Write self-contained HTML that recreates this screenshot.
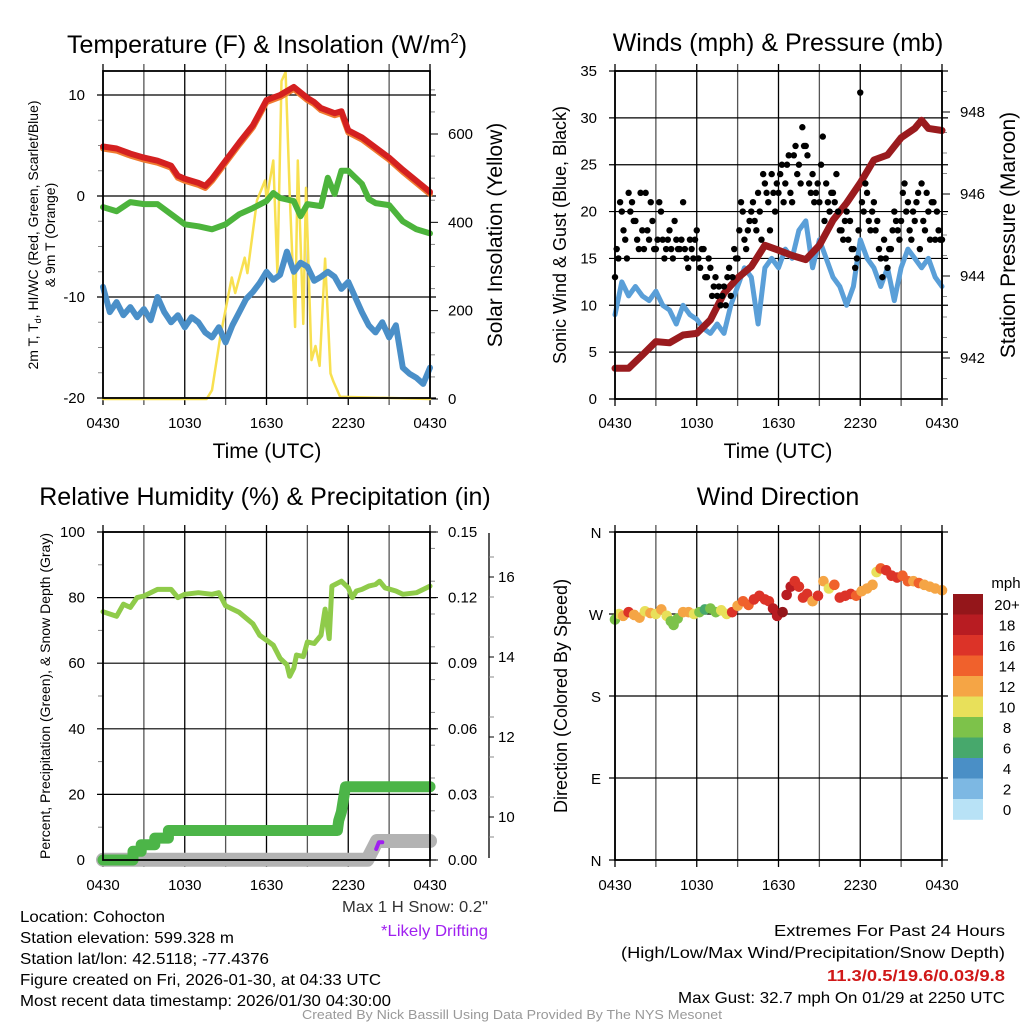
<!DOCTYPE html>
<html><head><meta charset="utf-8">
<style>
html,body{margin:0;padding:0;background:#fff;}
svg{display:block;font-family:"Liberation Sans",sans-serif;}
</style></head>
<body>
<svg id="c" width="1024" height="1024" viewBox="0 0 1024 1024" xmlns="http://www.w3.org/2000/svg">
<rect width="1024" height="1024" fill="#fff"/>
<g id="tl"></g>
<g id="tr"></g>
<g id="bl"></g>
<g id="br"></g>

<text x="267" y="53" font-size="25" text-anchor="middle">Temperature (F) &amp; Insolation (W/m<tspan dy="-10" font-size="15">2</tspan><tspan dy="10">)</tspan></text>
<text x="778" y="51" font-size="25" text-anchor="middle">Winds (mph) &amp; Pressure (mb)</text>
<text x="265" y="505" font-size="25" text-anchor="middle">Relative Humidity (%) &amp; Precipitation (in)</text>
<text x="778" y="505" font-size="25" text-anchor="middle">Wind Direction</text>

<text x="267" y="458" font-size="21" text-anchor="middle">Time (UTC)</text>
<text x="778" y="458" font-size="21" text-anchor="middle">Time (UTC)</text>

<text transform="translate(38,235) rotate(-90)" font-size="14" text-anchor="middle">2m T, T<tspan font-size="9" dy="3">d</tspan><tspan dy="-3">, HI/WC (Red, Green, Scarlet/Blue)</tspan></text>
<text transform="translate(55,235) rotate(-90)" font-size="14" text-anchor="middle">&amp; 9m T (Orange)</text>
<text transform="translate(502,235) rotate(-90)" font-size="21" text-anchor="middle">Solar Insolation (Yellow)</text>
<text transform="translate(566,235) rotate(-90)" font-size="18" text-anchor="middle">Sonic Wind &amp; Gust (Blue, Black)</text>
<text transform="translate(1015,235) rotate(-90)" font-size="21" text-anchor="middle">Station Pressure (Maroon)</text>
<text transform="translate(50,696) rotate(-90)" font-size="14" text-anchor="middle">Percent, Precipitation (Green), &amp; Snow Depth (Gray)</text>
<text transform="translate(567,696) rotate(-90)" font-size="18" text-anchor="middle">Direction (Colored By Speed)</text>

<g font-size="16" lengthAdjust="spacingAndGlyphs">
<text x="342" y="912" textLength="146" lengthAdjust="spacingAndGlyphs" fill="#333">Max 1 H Snow: 0.2"</text>
<text x="381" y="936" textLength="107" lengthAdjust="spacingAndGlyphs" fill="#a020f0">*Likely Drifting</text>
<text x="20" y="922" textLength="145" lengthAdjust="spacingAndGlyphs">Location: Cohocton</text>
<text x="20" y="943" textLength="214" lengthAdjust="spacingAndGlyphs">Station elevation: 599.328 m</text>
<text x="20" y="964" textLength="249" lengthAdjust="spacingAndGlyphs">Station lat/lon: 42.5118; -77.4376</text>
<text x="20" y="985" textLength="361" lengthAdjust="spacingAndGlyphs">Figure created on Fri, 2026-01-30, at 04:33 UTC</text>
<text x="20" y="1006" textLength="371" lengthAdjust="spacingAndGlyphs">Most recent data timestamp: 2026/01/30 04:30:00</text>
<text x="774" y="936" textLength="231" lengthAdjust="spacingAndGlyphs">Extremes For Past 24 Hours</text>
<text x="621" y="958" textLength="384" lengthAdjust="spacingAndGlyphs">(High/Low/Max Wind/Precipitation/Snow Depth)</text>
<text x="827" y="981" textLength="178" lengthAdjust="spacingAndGlyphs" fill="#d01818" font-weight="bold">11.3/0.5/19.6/0.03/9.8</text>
<text x="678" y="1003" textLength="327" lengthAdjust="spacingAndGlyphs">Max Gust: 32.7 mph On 01/29 at 2250 UTC</text>
<text x="302" y="1019" textLength="420" lengthAdjust="spacingAndGlyphs" font-size="13" fill="#999">Created By Nick Bassill Using Data Provided By The NYS Mesonet</text>
</g>
</svg>
<script>
// ---------- data ----------
const xTickLabels = ["0430","1030","1630","2230","0430"];
const tempT = [0,1,2,3,4,5,5.5,6,7,7.5,8,9,10,11,12,13,13.5,14,15,15.5,16,17,17.5,18,19,20,21,22,23,24];
const tempRed = [4.9,4.7,4.2,3.8,3.5,3.0,2.0,1.7,1.3,1.0,1.7,3.5,5.3,7.0,9.5,10.0,10.4,10.8,9.7,9.3,8.7,8.2,8.4,6.5,5.8,4.8,3.8,2.6,1.5,0.4];
const tdT = [0,1,2,3,4,5,6,7,8,9,10,11,12,12.5,13,14,14.5,15,16,16.5,17,17.5,18,19,19.5,20,21,22,23,24];
const tdGreen = [-1.1,-1.5,-0.6,-0.8,-0.8,-1.8,-2.8,-3.0,-3.3,-2.8,-1.8,-1.2,-0.5,0.3,-0.2,-0.5,-2.0,-0.8,-1.0,1.8,0.2,2.5,2.5,1.2,-0.3,-0.7,-0.9,-2.5,-3.3,-3.7];
const wcT = [0,0.5,1,1.5,2,2.5,3,3.5,4,4.5,5,5.5,6,6.5,7,7.5,8,8.5,9,9.5,10,10.5,11,11.5,12,12.5,13,13.5,14,14.5,15,15.5,16,16.5,17,17.5,18,18.5,19,19.5,20,20.5,21,21.5,22,22.5,23,23.5,24];
const wcBlue = [-9,-11.5,-10.5,-11.8,-11,-12,-11.2,-12.3,-10,-11.5,-12.5,-11.8,-13,-12,-12.5,-13.5,-14,-13,-14.5,-12.8,-11.5,-10.2,-9.5,-8.6,-7.5,-8.3,-7.8,-5.5,-7.5,-6.6,-7,-8.4,-8,-7.5,-8,-9.2,-8.5,-10,-11.5,-12.8,-13.5,-12.5,-14,-12.8,-17,-17.6,-18,-18.6,-17];
const solT = [0,7.6,8.0,8.6,9.45,9.7,10.4,10.6,11.3,11.9,12.0,12.5,12.8,13.1,13.4,13.7,14.1,14.3,14.7,14.9,15.3,15.6,15.9,16.3,16.7,16.9,17.4,24];
const solar = [0,0,20,140,275,240,320,285,450,495,450,540,285,720,740,465,163,540,170,478,88,120,75,318,58,40,5,0];
const windT = wcT;
const windBlue = [9,12.5,11,12,11,10.5,11.5,10,9.5,8,10,9,8.5,7.5,7,8,7,10,12,14,13,8,14,15,14,16,15,18,19,14,17,15,13,12,10,12,17,15,14,12,14,10.5,14,16,15,14,15,13,12];
const presT = [0,1,2,3,4,5,6,7,8,9,10,11,12,13,14,15,16,17,18,19,20,21,22,22.5,23,24];
const pressure = [941.75,941.75,942.07,942.4,942.37,942.56,942.6,942.93,943.58,943.95,944.23,944.75,944.63,944.5,944.4,944.75,945.36,945.78,946.27,946.83,946.95,947.37,947.6,947.8,947.6,947.55];
const gustA = [13,15,20,17,22,21,19,16,18,22,17,19,16,21,17,16,18,15,17,16,21,15,17,15,18,14,16,13,14,12,11,10,12,13,11,16,15,21,17,18,20,19,22,17,23,21,24,20,22,25,23,26,21,27,25,29,27,23,24,22,21,28,23,20,22,24,18,17,20,19,16,15,32.7,20,22,18,21,19,15,17,14,16,20,18,19,23,21,17,19,22,23,18,20,21,17,18,17];
const gustB = [16,21,18,15,20,19,17,22,16,18,21,16,17,20,15,17,16,19,16,17,16,14,16,17,15,16,13,15,11,13,12,11,10,14,13,15,18,20,16,19,21,18,20,24,22,18,22,23,24,21,25,22,26,24,23,27,26,22,21,23,25,19,21,22,21,20,18,19,17,16,14,18,21,23,19,20,18,16,13,15,16,18,19,17,22,20,18,20,21,16,19,22,17,21,20,17];
const rhT = [0,1,1.5,2,2.5,3,4,5,5.5,6,7,8,8.5,9,10,11,11.5,12,12.5,13,13.5,13.7,14,14.2,14.7,15,15.5,16,16.3,16.6,16.8,17.5,18,18.3,18.6,19,19.5,20,20.3,20.7,21.5,22,23,24];
const rh = [75.7,74.3,78,77,80,80.5,82.5,82.5,80,81,81.5,81,81.5,77.5,75.5,72,68.5,67,65.5,61.5,59.5,56,58.5,62.5,62,66.5,66,68.5,76.5,67.5,83.5,85,83,80,82,82.5,83.5,84,85,83,82,81,81.5,83.5];
const precT = [0,2.2,2.2,2.8,2.8,3.8,3.8,4.8,4.8,17.2,17.3,17.5,17.6,17.8,24];
const precip = [0,0,0.004,0.004,0.007,0.007,0.010,0.010,0.0135,0.0135,0.018,0.022,0.026,0.0335,0.0335];
const snowT = [0,19.4,20.1,24];
const snow = [8.93,8.93,9.4,9.4];
const driftT = [20.05,20.25,20.5];
const drift = [9.2,9.37,9.37];
const dirT = [0,0.3,0.6,1,1.4,1.8,2.2,2.6,3,3.4,3.8,4.1,4.3,4.6,5,5.4,5.8,6.2,6.6,7,7.4,7.8,8.2,8.6,9,9.4,9.8,10.2,10.6,11,11.3,11.6,11.9,12.3,12.6,12.9,13.2,13.5,13.8,14.1,14.5,14.9,15.3,15.7,16.1,16.5,16.9,17.3,17.7,18.1,18.5,18.9,19.2,19.5,19.9,20.3,20.7,21.1,21.5,21.9,22.3,22.7,23.1,23.5,24];
const dirDeg = [264,270,268,272,269,266,273,271,270,275,268,262,258,265,272,272,270,272,275,276,272,274,270,272,279,284,280,286,290,286,284,276,268,272,291,300,306,300,288,292,284,290,306,298,302,288,290,292,290,295,298,302,316,320,318,312,310,312,306,306,304,302,300,298,296];
const dirSpd = [8,10,12,16,12,12,11,13,10,12,10,8,8,8,12,12,10,8,6,8,8,10,10,16,12,14,14,16,16,17,16,18,19,20,18,19,16,17,17,16,12,16,12,11,14,17,16,17,14,13,13,12,10,15,16,17,16,15,14,12,14,13,12,12,12];
const cbLabels = ["20+","18","16","14","12","10","8","6","4","2","0"];
const cbColors = ["#94161a","#b81c22","#dc3328","#f0612c","#f5a545","#e8e05a","#7dc24a","#47a86c","#4a8fc6","#7db8e3","#b8e2f6"];

// ---------- helpers ----------
const NS="http://www.w3.org/2000/svg";
function mk(parent,tag,attrs){const e=document.createElementNS(NS,tag);for(const k in attrs)e.setAttribute(k,attrs[k]);parent.appendChild(e);return e;}
function lin(d0,d1,r0,r1){return v=>r0+(v-d0)*(r1-r0)/(d1-d0);}
function pathFrom(xs,ys,fx,fy){return xs.map((t,i)=>(i?"L":"M")+fx(t).toFixed(1)+","+fy(ys[i]).toFixed(1)).join("");}
function frame(g,L,R,T,B,xLabelY){
  const fx=lin(0,24,L,R);
  for(let h=0;h<=24;h+=3){
    const l=mk(g,"line",{x1:fx(h),x2:fx(h),y1:T-7,y2:B+7,stroke:(h%6==0)?"#000":"#555","stroke-width":1.3});
    
    
  }
  xTickLabels.forEach((s,i)=>{
    const t=mk(g,"text",{x:fx(i*6),y:xLabelY,"font-size":15,"text-anchor":"middle"});t.textContent=s;
    
    
  });
  return fx;
}
function hgrid(g,L,R,y){const l=mk(g,"line",{x1:L-6,x2:R+6,y1:y,y2:y,stroke:"#000","stroke-width":1.2});
  
  }
function ylab(g,x,y,s,anchor){const t=mk(g,"text",{x:x,y:y+5,"font-size":15,"text-anchor":anchor});t.textContent=s;
  
  }
function minor(g,x,y,dir){const l=mk(g,"line",{x1:x,x2:x+dir*5,y1:y,y2:y,stroke:"#888","stroke-width":1});
  
  }
function box(g,L,R,T,B){const r=mk(g,"rect",{x:L,y:T,width:R-L,height:B-T,fill:"none",stroke:"#000","stroke-width":1.8});
  
  }
function line(g,d,color,w,name){const p=mk(g,"path",{d:d,fill:"none",stroke:color,"stroke-width":w,"stroke-linejoin":"round","stroke-linecap":"round"});
  
  return p;}

// ---------- top-left ----------
(function(){
  const g=document.getElementById("tl");const L=103,R=430,T=71,B=398;
  const fx=frame(g,L,R,T,B,428);
  const fy=lin(-20,10,398,95);
  const fs=lin(0,600,399,134);
  [10,0,-10,-20].forEach(v=>{hgrid(g,L,R,fy(v));ylab(g,L-18,fy(v),String(v),"end");});
  for(let v=-17.5;v<=12;v+=2.5){if(v%10)minor(g,L,fy(v),-1);}
  [0,200,400,600].forEach(v=>{const l=mk(g,"line",{x1:R,x2:R+8,y1:fs(v),y2:fs(v),stroke:"#000"});
    
    
    ylab(g,R+18,fs(v),String(v),"start");});
  for(let v=50;v<740;v+=50){if(v%200)minor(g,R,fs(v),1);}
  line(g,pathFrom(solT,solar,fx,fs),"#f8e050",2.5,"solar-insolation-line");
  line(g,pathFrom(wcT,wcBlue,fx,fy),"#4a8fc8",6,"wind-chill-line");
  line(g,pathFrom(tdT,tdGreen,fx,fy),"#4cb43c",6,"dewpoint-line");
  line(g,pathFrom(tempT,tempRed.map(v=>v-0.2),fx,fy),"#f07a30",6,"temp-9m-line");
  line(g,pathFrom(tempT,tempRed,fx,fy),"#d42020",6,"temp-2m-line");
  box(g,L,R,T,B);
})();

// ---------- top-right ----------
(function(){
  const g=document.getElementById("tr");const L=615,R=942,T=71,B=399;
  const fx=frame(g,L,R,T,B,428);
  const fy=lin(0,35,399,71);
  const fp=lin(942,948,358,112);
  [0,5,10,15,20,25,30,35].forEach(v=>{hgrid(g,L,R,fy(v));ylab(g,L-18,fy(v),String(v),"end");});
  [942,944,946,948].forEach(v=>{const l=mk(g,"line",{x1:R,x2:R+8,y1:fp(v),y2:fp(v),stroke:"#000"});
    
    
    ylab(g,R+18,fp(v),String(v),"start");});
  for(let v=941.5;v<949;v+=0.5){if(v%2)minor(g,R,fp(v),1);}
  line(g,pathFrom(windT,windBlue,fx,fy),"#5a9fd8",5,"sonic-wind-line");
  line(g,pathFrom(presT,pressure,fx,fp),"#9a1b1e",7,"pressure-line");
  gustA.forEach((v,i)=>{const c=mk(g,"circle",{cx:fx(i*0.25),cy:fy(v),r:3.2,fill:"#000"});
    
    });
  gustB.forEach((v,i)=>{const c=mk(g,"circle",{cx:fx(i*0.25+0.125),cy:fy(v),r:3.2,fill:"#000"});
    
    });
  box(g,L,R,T,B);
})();

// ---------- bottom-left ----------
(function(){
  const g=document.getElementById("bl");const L=103,R=430,T=532,B=860;
  const fx=frame(g,L,R,T,B,890);
  const fy=lin(0,100,860,532);
  const fpr=lin(0,0.15,860,532);
  const fsn=lin(10,16,817,577);
  [0,20,40,60,80,100].forEach(v=>{hgrid(g,L,R,fy(v));ylab(g,L-18,fy(v),String(v),"end");});
  [10,30,50,70,90].forEach(v=>minor(g,L,fy(v),-1));
  ["0.00","0.03","0.06","0.09","0.12","0.15"].forEach(s=>{const v=+s;const l=mk(g,"line",{x1:R,x2:R+8,y1:fpr(v),y2:fpr(v),stroke:"#000"});
    
    
    ylab(g,R+18,fpr(v),s,"start");});
  for(let v=0.0075;v<0.15;v+=0.015)minor(g,R,fpr(v),1);
  const ax=mk(g,"line",{x1:489,x2:489,y1:533,y2:858,stroke:"#000","stroke-width":1.3});
  
  
  [10,12,14,16].forEach(v=>{const l=mk(g,"line",{x1:489,x2:494,y1:fsn(v),y2:fsn(v),stroke:"#000"});
    
    
    ylab(g,498,fsn(v),String(v),"start");});
  for(let v=9.5;v<17;v+=1){minor(g,489,fsn(v),1);}
  line(g,pathFrom(snowT,snow,fx,fsn),"#b3b3b3",14,"snow-depth-line");
  line(g,pathFrom(driftT,drift,fx,fsn),"#a020f0",4,"drifting-snow-segment");
  line(g,pathFrom(precT,precip,fx,fpr),"#4cb548",11,"precipitation-line");
  line(g,pathFrom(rhT,rh,fx,fy),"#8fcb4a",5,"relative-humidity-line");
  box(g,L,R,T,B);
})();

// ---------- bottom-right ----------
(function(){
  const g=document.getElementById("br");const L=615,R=942,T=532,B=860;
  const fx=frame(g,L,R,T,B,890);
  const fy=lin(0,360,860,532);
  [["N",360],["W",270],["S",180],["E",90],["N",0]].forEach(([s,v])=>{hgrid(g,L,R,fy(v));
    const t=mk(g,"text",{x:L-19,y:fy(v)+6,"font-size":15,"text-anchor":"middle"});t.textContent=s;
    
    });
  function col(s){let i=Math.floor(s/2);if(i>10)i=10;return cbColors[10-i];}
  dirT.forEach((t,i)=>{const c=mk(g,"circle",{cx:fx(t),cy:fy(dirDeg[i]),r:5.3,fill:col(dirSpd[i])});
    
    });
  box(g,L,R,T,B);
  const mt=mk(g,"text",{x:1006,y:588,"font-size":15,"text-anchor":"middle"});mt.textContent="mph";
  
  
  cbColors.forEach((c,i)=>{const r=mk(g,"rect",{x:953,y:594+i*20.5,width:30,height:20.8,fill:c});
    
    
    const t=mk(g,"text",{x:1007,y:594+i*20.5+16,"font-size":15,"text-anchor":"middle"});t.textContent=cbLabels[i];
    
    });
})();
</script>
</body></html>
